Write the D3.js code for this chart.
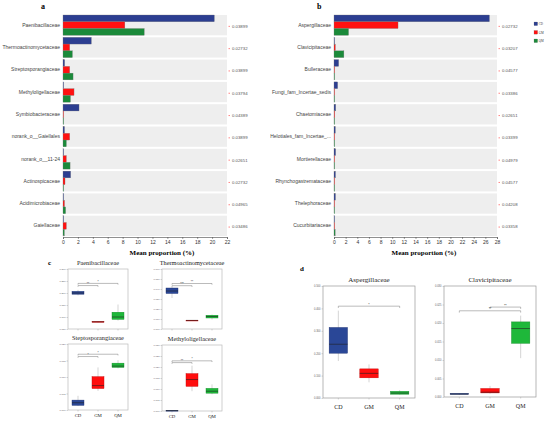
<!DOCTYPE html>
<html>
<head>
<meta charset="utf-8">
<script src="https://cdn.jsdelivr.net/npm/d3@7"></script>
<style>
  body { margin: 0; background: #fff; }
  svg { display: block; }
</style>
</head>
<body>
<svg id="fig" width="550" height="421"></svg>
<script>
const groups = ["CD", "GM", "QM"];

// panel a - bacterial families (mean proportion %)
const aTaxa = ["Paenibacillaceae", "Thermoactinomycetaceae", "Streptosporangiaceae", "Methyloligellaceae",
  "Symbiobacteraceae", "norank_o__Gaiellales", "norank_o__11-24", "Actinospicaceae", "Acidimicrobiaceae", "Gaiellaceae"];
const aCD = [20.3, 3.8, 0.22, 0.02, 2.15, 0.2, 0.02, 1.03, 0.02, 0.03];
const aGM = [8.3, 0.9, 0.9, 1.48, 0.03, 0.9, 0.45, 0.27, 0.2, 0.45];
const aQM = [10.9, 1.26, 1.35, 1.0, 0.02, 0.45, 0.95, 0.05, 0.35, 0.18];
const aP = ["0.03899", "0.02732", "0.03899", "0.03794", "0.04389", "0.03899", "0.02651", "0.02732", "0.04965", "0.03486"];

// panel b - fungal families
const bTaxa = ["Aspergillaceae", "Clavicipitaceae", "Bulleraceae", "Fungi_fam_Incertae_sedis", "Chaetomiaceae",
  "Helotiales_fam_Incertae_...", "Mortierellaceae", "Rhynchogastremataceae", "Thelephoraceae", "Cucurbitariaceae"];
const bCD = [26.7, 0.1, 0.8, 0.63, 0.29, 0.23, 0.28, 0.25, 0.25, 0.02];
const bGM = [11.0, 0.23, 0.02, 0.02, 0.12, 0.05, 0.03, 0.03, 0.03, 0.02];
const bQM = [2.5, 1.7, 0.02, 0.02, 0.02, 0.02, 0.02, 0.02, 0.02, 0.2];
const bP = ["0.02732", "0.03207", "0.04577", "0.03386", "0.02651", "0.03399", "0.04979", "0.04577", "0.04208", "0.03358"];

// box plot stats [min, q1, median, q3, max] per group
const boxPaeni = [[0.19, 0.195, 0.2, 0.207, 0.213], [0.077, 0.078, 0.08, 0.082, 0.083], [0.085, 0.09, 0.1, 0.12, 0.152]];
const boxThermo = [[0.031, 0.0355, 0.038, 0.041, 0.042], [0.0082, 0.0084, 0.0086, 0.0088, 0.009], [0.0095, 0.011, 0.0125, 0.0138, 0.0145]];
const boxStrepto = [[0.0012, 0.0014, 0.0022, 0.003, 0.0043], [0.0058, 0.0065, 0.0074, 0.0101, 0.0129], [0.0126, 0.0129, 0.0133, 0.0142, 0.0151]];
const boxMethyl = [[0.0001, 0.0001, 0.0002, 0.0003, 0.0004], [0.009, 0.0112, 0.0143, 0.017, 0.0206], [0.0076, 0.0081, 0.009, 0.0103, 0.0121]];
const boxAsper = [[0.165, 0.2, 0.24, 0.315, 0.39], [0.07, 0.09, 0.11, 0.13, 0.15], [0.015, 0.017, 0.022, 0.03, 0.035]];
const boxClavi = [[0.0006, 0.0007, 0.0008, 0.001, 0.001], [0.0009, 0.0011, 0.0013, 0.0023, 0.003], [0.0105, 0.0145, 0.0185, 0.0203, 0.022]];

// significance brackets [from, to, y, label]
const sigPaeni = [[0, 2, 0.24, "*"], [0, 1, 0.231, "**"]];
const sigThermo = [[0, 2, 0.0455, "**"], [0, 1, 0.0433, "***"]];
const sigStrepto = [[0, 2, 0.0169, "*"], [0, 1, 0.0162, "*"]];
const sigMethyl = [[0, 2, 0.0228, "*"], [0, 1, 0.022, "**"]];
const sigAsper = [[0, 2, 0.41, "*"]];
const sigClavi = [[1, 2, 0.0243, "**"], [0, 2, 0.0233, "**"]];

const barColors = ["#2c3e91", "#ff1111", "#1b8a3a"];
const boxColors = ["#2a4797", "#ff0e0e", "#1eb83a"];
const boxStrokes = ["#1b2f6e", "#c00000", "#138a28"];

const svg = d3.select("#fig");
const sans = "'Liberation Sans', Arial, sans-serif";
const serif = "'Liberation Serif', 'Times New Roman', serif";

function barPanel(taxa, series, pvals, x0, x1, xmax, letter, letterX, titleX) {
  const g = svg.append("g");
  const x = d3.scaleLinear().domain([0, xmax]).range([x0, x1]);
  const y = d3.scaleBand().domain(taxa).range([15, 236]).paddingInner(0.09).paddingOuter(0);
  const yi = d3.scaleBand().domain(groups).range([0, y.bandwidth()]);

  g.append("text").attr("x", letterX).attr("y", 9).text(letter)
    .attr("font-family", serif).attr("font-weight", "bold").attr("font-size", 8);

  const rows = g.selectAll("g.row").data(taxa).join("g")
    .attr("transform", d => `translate(0,${y(d)})`);
  rows.append("rect").attr("x", x0).attr("width", x1 - x0)
    .attr("height", y.bandwidth()).attr("fill", "#eeeeee");

  rows.selectAll("rect.bar").data((d, i) => series.map((s, k) => ({ k, v: s[i] }))).join("rect")
    .attr("class", "bar")
    .attr("x", x0)
    .attr("y", d => yi(groups[d.k]))
    .attr("width", d => Math.max(0.6, x(d.v) - x0))
    .attr("height", yi.bandwidth())
    .attr("fill", d => barColors[d.k])
    .attr("stroke", "#777").attr("stroke-width", 0.3);

  rows.append("text").attr("x", x0 - 3).attr("y", y.bandwidth() / 2 + 1.6)
    .attr("text-anchor", "end").attr("font-family", sans).attr("font-size", 5).attr("fill", "#444")
    .text(d => d);

  rows.append("line").attr("x1", x1 + 1.5).attr("x2", x1 + 3)
    .attr("y1", y.bandwidth() / 2 + 1.2).attr("y2", y.bandwidth() / 2 + 1.2)
    .attr("stroke", "#ff3030").attr("stroke-width", 0.6);
  rows.append("text").attr("x", x1 + 5).attr("y", y.bandwidth() / 2 + 2.6)
    .attr("font-family", sans).attr("font-size", 4.3).attr("fill", "#555")
    .text((d, i) => pvals[i]);

  const axis = d3.axisBottom(x).tickValues(d3.range(0, xmax + 1, 2)).tickSize(2).tickPadding(1.5);
  const ax = g.append("g").attr("transform", "translate(0,237)").call(axis);
  ax.select(".domain").attr("stroke", "#444").attr("stroke-width", 0.6);
  ax.selectAll(".tick line").attr("stroke", "#444").attr("stroke-width", 0.5);
  ax.selectAll("text").attr("font-family", sans).attr("font-size", 5).attr("fill", "#333");

  g.append("text").attr("x", titleX).attr("y", 255).attr("text-anchor", "middle")
    .attr("font-family", serif).attr("font-weight", "bold").attr("font-size", 7)
    .text("Mean proportion (%)");
}

barPanel(aTaxa, [aCD, aGM, aQM], aP, 63, 227, 22, "a", 41, 162);
barPanel(bTaxa, [bCD, bGM, bQM], bP, 334, 497, 28, "b", 317, 424);

// legend
const leg = svg.append("g").attr("transform", "translate(534,22)");
groups.forEach((gName, i) => {
  leg.append("rect").attr("x", 0).attr("y", i * 8.5).attr("width", 3.6).attr("height", 3.6)
    .attr("fill", barColors[i]).attr("stroke", "#666").attr("stroke-width", 0.2);
  leg.append("text").attr("x", 4.8).attr("y", i * 8.5 + 3.2).text(gName)
    .attr("font-family", serif).attr("font-size", 3).attr("fill", "#333");
});

function boxPanel(o) {
  const g = svg.append("g");
  const x = d3.scaleBand().domain(groups).range([o.left, o.right]);
  const y = d3.scaleLinear().domain(o.domain).range([o.bottom, o.top]);
  const bw = x.bandwidth() * 0.6;

  g.append("text").attr("x", (o.left + o.right) / 2).attr("y", o.top - 4)
    .attr("text-anchor", "middle").attr("font-family", serif).attr("font-size", o.titleSize)
    .attr("fill", "#222").text(o.title);

  g.append("rect").attr("x", o.left).attr("y", o.top).attr("width", o.right - o.left)
    .attr("height", o.bottom - o.top).attr("fill", "none").attr("stroke", o.frame).attr("stroke-width", 0.7);

  const yAx = g.append("g").attr("transform", `translate(${o.left},0)`)
    .call(d3.axisLeft(y).tickValues(o.ticks).tickFormat(d3.format(".3f")).tickSize(1.5).tickPadding(1));
  yAx.select(".domain").remove();
  yAx.selectAll(".tick line").attr("stroke", "#999").attr("stroke-width", 0.4);
  yAx.selectAll("text").attr("font-family", sans).attr("font-size", o.tickSize).attr("fill", "#666");

  const xAx = g.append("g").attr("transform", `translate(0,${o.bottom})`)
    .call(d3.axisBottom(x).tickSize(1.5).tickPadding(o.xPad));
  xAx.select(".domain").remove();
  xAx.selectAll(".tick line").attr("stroke", "#999").attr("stroke-width", 0.4);
  if (o.hideX) xAx.selectAll("text").remove();
  else xAx.selectAll("text").attr("font-family", serif).attr("font-size", o.xSize).attr("fill", "#222");

  const boxes = g.selectAll("g.box").data(o.stats).join("g")
    .attr("transform", (d, i) => `translate(${x(groups[i]) + x.bandwidth() / 2},0)`);
  boxes.append("line").attr("x1", 0).attr("x2", 0)
    .attr("y1", d => y(d[0])).attr("y2", d => y(d[4]))
    .attr("stroke", "#aaa").attr("stroke-width", 0.5);
  boxes.append("rect").attr("x", -bw / 2).attr("width", bw)
    .attr("y", d => y(d[3])).attr("height", d => Math.max(0.8, y(d[1]) - y(d[3])))
    .attr("fill", (d, i) => boxColors[i]).attr("stroke", (d, i) => boxStrokes[i]).attr("stroke-width", 0.4);
  boxes.append("line").attr("x1", -bw / 2).attr("x2", bw / 2)
    .attr("y1", d => y(d[2])).attr("y2", d => y(d[2]))
    .attr("stroke", "#222").attr("stroke-width", 0.6);

  const cx = i => x(groups[i]) + x.bandwidth() / 2;
  o.sigs.forEach(s => {
    const yy = y(s[2]);
    g.append("path")
      .attr("d", `M${cx(s[0])},${yy + o.tick}V${yy}H${cx(s[1])}V${yy + o.tick}`)
      .attr("fill", "none").attr("stroke", "#777").attr("stroke-width", 0.5);
    g.append("text").attr("x", (cx(s[0]) + cx(s[1])) / 2).attr("y", yy - 0.5)
      .attr("text-anchor", "middle").attr("font-family", sans).attr("font-size", o.sigSize)
      .attr("fill", "#333").text(s[3]);
  });
}

// panel c
svg.append("text").attr("x", 48).attr("y", 265).text("c")
  .attr("font-family", serif).attr("font-weight", "bold").attr("font-size", 7);
const cCommon = { titleSize: 6.3, tickSize: 2.4, xSize: 4.8, xPad: 2, frame: "#bbb", tick: 1.2, sigSize: 3 };
boxPanel({ ...cCommon, title: "Paenibacillaceae", left: 68, right: 128, top: 269, bottom: 329, hideX: true,
  domain: [0.05, 0.3], ticks: [0.05, 0.1, 0.15, 0.2, 0.25, 0.3], stats: boxPaeni, sigs: sigPaeni });
boxPanel({ ...cCommon, title: "Thermoactinomycetaceae", left: 162, right: 222, top: 269, bottom: 329, hideX: true,
  domain: [0, 0.06], ticks: [0, 0.01, 0.02, 0.03, 0.04, 0.05, 0.06], stats: boxThermo, sigs: sigThermo });
boxPanel({ ...cCommon, title: "Steptosporangiaceae", left: 68, right: 128, top: 344, bottom: 410,
  domain: [0, 0.02], ticks: [0, 0.005, 0.01, 0.015, 0.02], stats: boxStrepto, sigs: sigStrepto });
boxPanel({ ...cCommon, title: "Methyloligellaceae", left: 162, right: 222, top: 345, bottom: 411,
  domain: [0, 0.03], ticks: [0, 0.005, 0.01, 0.015, 0.02, 0.025, 0.03], stats: boxMethyl, sigs: sigMethyl });

// panel d
svg.append("text").attr("x", 300).attr("y", 271).text("d")
  .attr("font-family", serif).attr("font-weight", "bold").attr("font-size", 7);
const dCommon = { titleSize: 7, tickSize: 2.6, xSize: 6, xPad: 5, frame: "#999", tick: 1.8, sigSize: 3.5 };
boxPanel({ ...dCommon, title: "Aspergillaceae", left: 323, right: 415, top: 286, bottom: 398,
  domain: [0, 0.5], ticks: [0, 0.1, 0.2, 0.3, 0.4, 0.5], stats: boxAsper, sigs: sigAsper });
boxPanel({ ...dCommon, title: "Clavicipitaceae", left: 444, right: 536, top: 286, bottom: 397,
  domain: [0, 0.03], ticks: [0, 0.005, 0.01, 0.015, 0.02, 0.025, 0.03], stats: boxClavi, sigs: sigClavi });
</script>
</body>
</html>
